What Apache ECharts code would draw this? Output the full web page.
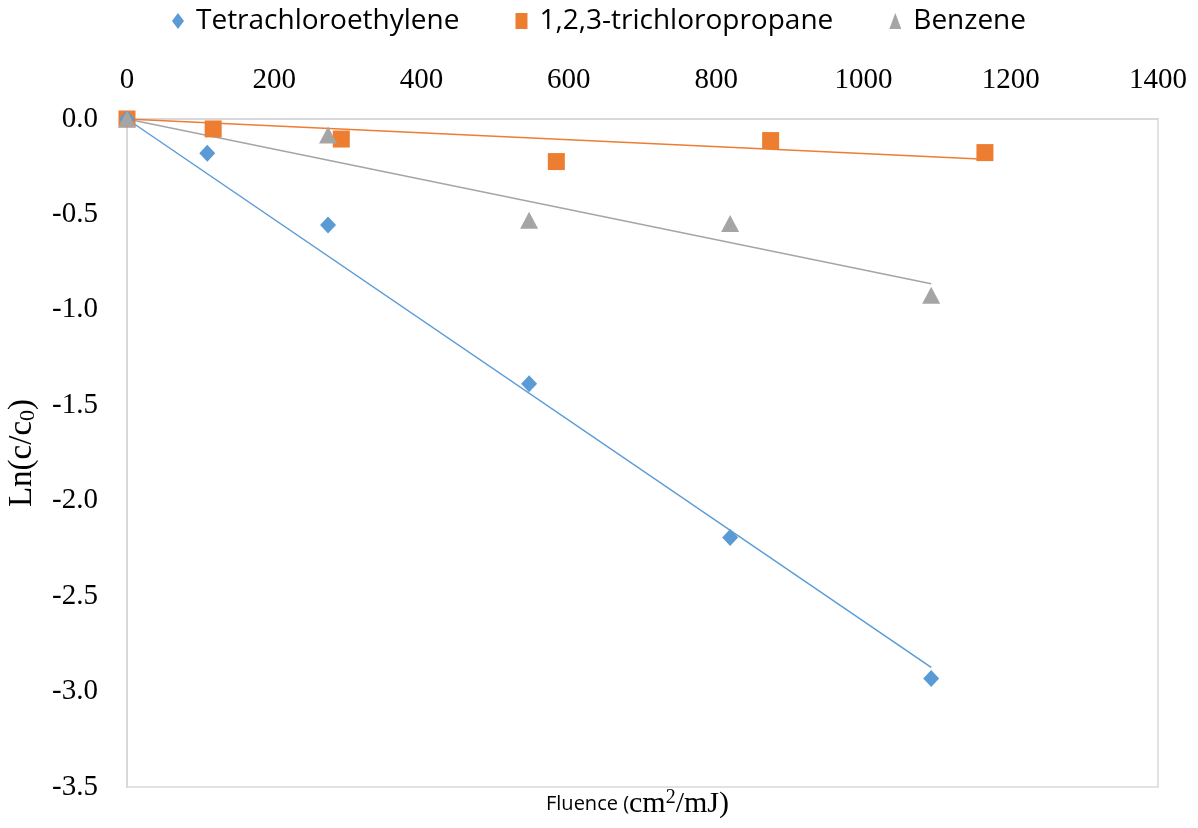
<!DOCTYPE html>
<html>
<head>
<meta charset="utf-8">
<script src="https://cdn.jsdelivr.net/npm/echarts@6/dist/echarts.min.js"></script>
<style>html,body{margin:0;padding:0;background:#fff;}#c{width:1198px;height:828px;}</style>
</head>
<body>
<div id="c"></div>
<script>
// ---- data ----
const seriesNames = ['Tetrachloroethylene', '1,2,3-trichloropropane', 'Benzene'];
const tceX = [0, 109, 273, 546, 819, 1092];
const tceY = [0, -0.18, -0.555, -1.387, -2.193, -2.932];
const tcpX = [0, 117, 291, 583, 874, 1165];
const tcpY = [0, -0.052, -0.105, -0.223, -0.113, -0.176];
const bzX = [0, 273, 546, 819, 1092];
const bzY = [0, -0.084, -0.531, -0.547, -0.924];
// trendline endpoints
const tceTrendX = [0, 1092];
const tceTrendY = [0, -2.873];
const tcpTrendX = [0, 1165];
const tcpTrendY = [0, -0.211];
const bzTrendX = [0, 1092];
const bzTrendY = [0, -0.863];
const xTicks = [0, 200, 400, 600, 800, 1000, 1200, 1400];
const yTicks = [0, -0.5, -1.0, -1.5, -2.0, -2.5, -3.0, -3.5];

const colors = ['#5B9BD5', '#ED7D31', '#A5A5A5'];
const zip = (xs, ys) => xs.map((x, i) => [x, ys[i]]);

const chart = echarts.init(document.getElementById('c'), null, {renderer: 'canvas'});
const serif = '"Liberation Serif", "Times New Roman", serif';
const sans = '"Open Sans", "Noto Sans", sans-serif';

function trend(name, xs, ys, color) {
  return {
    type: 'line', name: name + ' trend', data: zip(xs, ys), symbol: 'none',
    lineStyle: {color: color, width: 1.5}, z: 1, silent: true, animation: false
  };
}

chart.setOption({
  animation: false,
  backgroundColor: '#fff',
  grid: {left: 127, right: 40, top: 119, bottom: 41, show: true, borderColor: '#D9D9D9', borderWidth: 1.5,
    containLabel: false, outerBoundsMode: 'none'},
  legend: {
    data: [
      {name: seriesNames[0], icon: 'diamond'},
      {name: seriesNames[1], icon: 'rect'},
      {name: seriesNames[2], icon: 'triangle'}
    ],
    top: 2, left: 'center', itemWidth: 12, itemHeight: 16, itemGap: 56,
    textStyle: {fontFamily: sans, fontSize: 28, color: '#000', padding: [0, 0, 0, 7]}
  },
  xAxis: {
    type: 'value', position: 'top', min: 0, max: 1400, interval: 200,
    axisLine: {show: true, onZero: false, lineStyle: {color: '#D9D9D9', width: 2}},
    axisTick: {show: false}, splitLine: {show: false},
    axisLabel: {fontFamily: serif, fontSize: 29, color: '#000', margin: 24,
      formatter: v => xTicks.includes(v) ? String(v) : ''}
  },
  yAxis: {
    type: 'value', min: -3.5, max: 0, interval: 0.5,
    axisLine: {show: true, onZero: false, lineStyle: {color: '#D9D9D9', width: 2}},
    axisTick: {show: false}, splitLine: {show: false},
    axisLabel: {fontFamily: serif, fontSize: 29, color: '#000', margin: 29,
      formatter: v => yTicks.some(t => Math.abs(t - v) < 1e-9) ? v.toFixed(1) : ''},
    name: '{m|Ln(c/c}{s|0}{m|)}', nameLocation: 'middle', nameGap: 88, nameRotate: 90,
    nameTextStyle: {rich: {
      m: {fontFamily: serif, fontSize: 33, color: '#000'},
      s: {fontFamily: serif, fontSize: 22, color: '#000', verticalAlign: 'bottom', padding: [11, 0, 0, 0]}
    }}
  },
  graphic: [{
    type: 'text', left: 546, top: 788,
    style: {
      text: '{a|Fluence (}{b|cm}{c|2}{b|/mJ)}',
      rich: {
        a: {fontFamily: sans, fontSize: 20, fill: '#000'},
        b: {fontFamily: serif, fontSize: 30, fill: '#000'},
        c: {fontFamily: serif, fontSize: 20, fill: '#000', verticalAlign: 'top', padding: [0, 0, 12, 0]}
      }
    }
  }],
  series: [
    trend(seriesNames[0], tceTrendX, tceTrendY, colors[0]),
    trend(seriesNames[1], tcpTrendX, tcpTrendY, colors[1]),
    trend(seriesNames[2], bzTrendX, bzTrendY, colors[2]),
    {type: 'scatter', name: seriesNames[0], data: zip(tceX, tceY), symbol: 'diamond', symbolSize: [16, 17],
      itemStyle: {color: colors[0], opacity: 1}, z: 3},
    {type: 'scatter', name: seriesNames[1], data: zip(tcpX, tcpY), symbol: 'rect', symbolSize: 17,
      itemStyle: {color: colors[1], opacity: 1}, z: 2},
    {type: 'scatter', name: seriesNames[2], data: zip(bzX, bzY), symbol: 'triangle', symbolSize: [18, 17],
      itemStyle: {color: colors[2], opacity: 1}, z: 4}
  ]
});
</script>
</body>
</html>
